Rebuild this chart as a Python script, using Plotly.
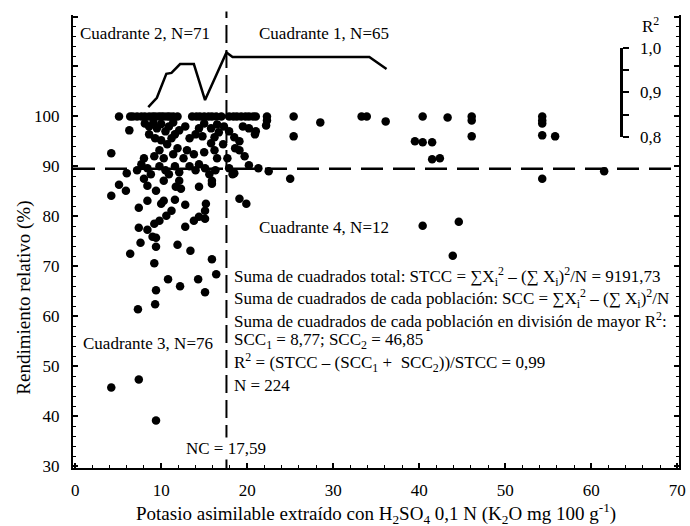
import plotly.graph_objects as go

# ---------------- data ----------------
NC = 17.59          # critical level (x)
RR_CUT = 89.5       # relative-yield split (y)

# points sitting on the 100 % row
x_at_100 = [5.1, 6.4, 6.7, 7.2, 7.7, 8.1, 8.6, 9.0, 9.3, 9.7, 10.0, 10.3, 10.7, 11.0,
            11.4, 11.9, 13.6, 14.1, 14.5, 15.0, 15.5, 15.9, 16.4, 17.0, 17.9, 18.4,
            18.8, 19.3, 19.8, 20.2, 20.7, 21.0, 22.3, 25.4, 33.3, 33.9, 40.4, 46.1, 54.3]

# remaining points
x_other = [22.3, 25.4, 28.5, 36.1, 43.3, 46.1, 46.1, 54.3, 54.3, 54.3, 55.8, 39.5, 40.4,
           41.5, 41.5, 42.4, 54.3, 61.5, 40.4, 44.6, 43.9,
           6.3, 8.1, 8.6, 9.1, 9.5, 10.0, 10.5, 10.9, 11.4, 11.6, 8.6, 9.3, 10.0, 10.7,
           11.2, 12.1, 12.8, 13.3, 14.0, 14.4, 15.0, 15.8, 16.5, 16.7, 17.3, 17.9, 18.5,
           19.1, 19.5, 20.2, 20.9, 22.2, 15.8, 17.2, 14.8, 16.2, 16.2, 15.0, 13.8, 13.0,
           11.9, 11.4, 12.6, 9.8, 9.2, 10.3, 8.0, 19.1, 19.7, 18.6, 17.7, 16.5, 4.2,
           7.7, 8.4, 7.2, 6.0, 8.8, 9.8, 10.5, 10.9, 11.6, 12.1, 13.3, 14.0, 14.4, 15.1,
           15.6, 16.3, 17.9, 20.2, 21.3, 22.5, 18.5, 15.9, 12.1, 10.3, 8.0, 5.1, 5.9,
           4.2, 8.4, 9.4, 11.7, 12.3, 14.4, 18.3, 25.0, 7.4, 8.4, 10.0, 10.3, 11.6, 12.8,
           15.2, 15.1, 11.2, 10.6, 9.8, 9.2, 7.4, 8.4, 9.0, 9.4, 12.8, 13.8, 14.4, 15.1,
           7.6, 9.4, 11.9, 13.4, 6.4, 9.2, 15.9, 16.4, 10.8, 12.2, 14.3, 15.1, 9.4, 9.3,
           7.3, 7.4, 4.2, 9.4, 19.1, 19.9, 21.0, 15.9]
y_other = [99.2, 96.0, 98.8, 99.0, 99.8, 99.2, 96.0, 99.2, 98.6, 96.2, 96.0, 95.0, 94.8,
           94.8, 91.4, 91.6, 87.5, 89.0, 78.1, 78.9, 72.1,
           97.2, 98.6, 98.0, 98.8, 97.6, 98.5, 97.0, 98.0, 98.8, 96.4, 96.4, 95.6, 95.2, 94.4,
           95.6, 97.2, 98.0, 95.6, 96.4, 97.6, 98.6, 97.6, 98.4, 96.8, 98.0, 97.0, 95.8,
           95.0, 98.0, 97.6, 96.4, 98.2, 94.6, 94.4, 96.0, 95.8, 93.2, 92.8, 92.4, 93.2,
           93.6, 92.4, 91.6, 93.2, 92.0, 91.6, 91.6, 93.2, 92.0, 93.6, 91.6, 91.6, 92.6,
           90.4, 89.6, 89.2, 88.6, 88.4, 90.0, 89.2, 88.4, 90.0, 88.8, 90.0, 89.2, 90.4, 89.6,
           88.4, 89.2, 89.6, 90.2, 89.6, 89.0, 88.6, 87.1, 87.1, 87.1, 87.5, 86.3, 85.1,
           84.1, 86.1, 85.1, 85.9, 85.5, 85.9, 88.4, 87.5, 81.7, 83.1, 82.5, 83.1, 83.3, 82.3,
           82.5, 81.1, 81.1, 80.1, 79.1, 78.5, 77.7, 77.3, 75.9, 75.7, 77.9, 79.1, 79.9, 79.5,
           74.7, 73.9, 74.3, 73.1, 72.5, 70.6, 71.4, 68.4, 67.4, 66.0, 67.4, 64.8, 65.2, 62.4,
           61.4, 47.3, 45.7, 39.1, 83.5, 82.5, 97.0, 86.5]

# R2 of each candidate split
r2_x = [8.5, 9.5, 10.6, 11.2, 12.2, 13.8, 15.1, 17.59, 18.3, 34.2, 36.2]
r2_y = [0.867, 0.888, 0.942, 0.944, 0.964, 0.964, 0.883, 0.99, 0.980, 0.980, 0.953]

x_ticks = [0, 10, 20, 30, 40, 50, 60, 70]
y_ticks = [30, 40, 50, 60, 70, 80, 90, 100, 110, 120]
y_ticktext = ["30", "40", "50", "60", "70", "80", "90", "100", "", ""]
r2_ticks = [0.8, 0.85, 0.9, 0.95, 1.0]
r2_ticktext = ["0,8", "", "0,9", "", "1,0"]

xs = x_at_100 + x_other
ys = [100.0] * len(x_at_100) + y_other

FONT = "Liberation Serif, Tinos, Times New Roman, DejaVu Serif, serif"
BLACK = "black"

fig = go.Figure()
fig.add_trace(go.Scatter(x=xs, y=ys, mode="markers",
                         marker=dict(color=BLACK, size=8.5, line=dict(width=0)),
                         hoverinfo="skip"))
fig.add_trace(go.Scatter(x=r2_x, y=r2_y, mode="lines", yaxis="y2",
                         line=dict(color=BLACK, width=2.5), hoverinfo="skip"))

# split lines
fig.add_shape(type="line", xref="paper", x0=0, x1=1, yref="y", y0=RR_CUT, y1=RR_CUT,
              line=dict(color=BLACK, width=2.5, dash="22px,10px"), layer="above")
fig.add_shape(type="line", xref="x", x0=NC, x1=NC, yref="paper", y0=0, y1=1.008,
              line=dict(color=BLACK, width=2, dash="18px,7px"), layer="above")

def ann(text, x, y, xanchor="left", size=17, xref="paper", yref="paper", **kw):
    fig.add_annotation(text=text, x=x, y=y, xref=xref, yref=yref, xanchor=xanchor,
                       yanchor="middle", showarrow=False,
                       font=dict(family=FONT, size=size, color=BLACK), **kw)

ann("Cuadrante 2, N=71", 0.008, 0.960)
ann("Cuadrante 1, N=65", 0.303, 0.960)
ann("Cuadrante 4, N=12", 0.303, 0.530)
ann("Cuadrante 3, N=76", 0.013, 0.274)
ann("NC = 17,59", NC, 0.044, xanchor="center", xref="x", bgcolor="white")
ann("R<sup>2</sup>", 0.953, 0.978, xanchor="center")

lines = [
    "Suma de cuadrados total: STCC = ∑X<sub>i</sub><sup>2</sup> – (∑ X<sub>i</sub>)<sup>2</sup>/N = 9191,73",
    "Suma de cuadrados de cada población: SCC = ∑X<sub>i</sub><sup>2</sup> – (∑ X<sub>i</sub>)<sup>2</sup>/N",
    "Suma de cuadrados de cada población en división de mayor R<sup>2</sup>:",
    "SCC<sub>1</sub> = 8,77; SCC<sub>2</sub> = 46,85",
    "R<sup>2</sup> = (STCC – (SCC<sub>1</sub> +  SCC<sub>2</sub>))/STCC = 0,99",
    "N = 224",
]
line_y = [0.422, 0.375, 0.327, 0.280, 0.232, 0.183]
for t, yy in zip(lines, line_y):
    ann(t, 0.263, yy)

ann("Potasio asimilable extraído con H<sub>2</sub>SO<sub>4</sub> 0,1 N (K<sub>2</sub>O mg 100 g<sup>-1</sup>)",
    0.5, -0.1015, xanchor="center", size=19)
ann("Rendimiento relativo (%)", -0.080, 0.375, xanchor="center", size=19, textangle=-90)

fig.update_layout(
    width=690, height=526,
    margin=dict(l=73, r=4, t=15, b=58),
    plot_bgcolor="rgba(0,0,0,0)", paper_bgcolor="white",
    showlegend=False,
    font=dict(family=FONT, size=16, color=BLACK),
    xaxis=dict(range=[-0.25, 70.2], tickmode="array", tickvals=x_ticks,
               ticks="inside", ticklen=5, tickwidth=1.5, tickcolor=BLACK,
               showline=True, linecolor=BLACK, linewidth=2, mirror=False,
               showgrid=False, zeroline=False, ticklabelstandoff=6,
               ticklabeloverflow="allow",
               tickfont=dict(family=FONT, size=17, color=BLACK),
               minor=dict(tickmode="linear", tick0=0, dtick=2, ticks="inside",
                          ticklen=3, tickwidth=1, tickcolor=BLACK, showgrid=False)),
    yaxis=dict(range=[29.6, 120.3], tickmode="array", tickvals=y_ticks, ticktext=y_ticktext,
               ticks="inside", ticklen=5, tickwidth=1.5, tickcolor=BLACK,
               showline=True, linecolor=BLACK, linewidth=2, mirror="ticks",
               showgrid=False, zeroline=False, ticklabelstandoff=8,
               tickfont=dict(family=FONT, size=17, color=BLACK),
               minor=dict(tickmode="linear", tick0=30, dtick=2, ticks="inside",
                          ticklen=3, tickwidth=1, tickcolor=BLACK, showgrid=False)),
    yaxis2=dict(domain=[0.731, 0.927], anchor="free", position=0.904, side="right",
                range=[0.8, 1.0], tickmode="array", tickvals=r2_ticks, ticktext=r2_ticktext,
                ticks="outside", ticklen=6, tickwidth=2, tickcolor=BLACK,
                showline=True, linecolor=BLACK, linewidth=2.5,
                showgrid=False, zeroline=False, ticklabelstandoff=8,
                tickfont=dict(family=FONT, size=17, color=BLACK)),
)

fig.write_html("out.html")
